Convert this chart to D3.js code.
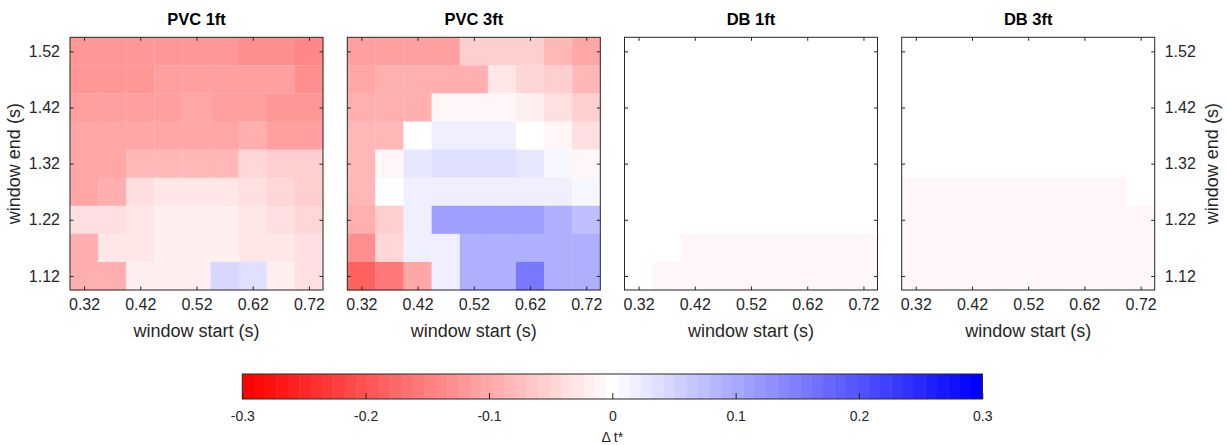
<!DOCTYPE html>
<html>
<head>
<meta charset="utf-8">
<script src="https://cdn.jsdelivr.net/npm/d3@7/dist/d3.min.js"></script>
<style>
  html, body { margin: 0; padding: 0; background: #fff; }
  svg { display: block; font-family: "Liberation Sans", Arial, Helvetica, sans-serif; }
</style>
</head>
<body>
<svg id="chart" width="1226" height="445"></svg>
<script>
// ---------- data ----------
const panelTitles = ["PVC 1ft", "PVC 3ft", "DB 1ft", "DB 3ft"];
const windowStart = [0.32, 0.37, 0.42, 0.47, 0.52, 0.57, 0.62, 0.67, 0.72];
const windowEnd = [1.52, 1.47, 1.42, 1.37, 1.32, 1.27, 1.22, 1.17, 1.12]; // rows, top to bottom
const xTicks = [0.32, 0.42, 0.52, 0.62, 0.72];
const yTicks = [1.12, 1.22, 1.32, 1.42, 1.52];
const cbTicks = [-0.3, -0.2, -0.1, 0, 0.1, 0.2, 0.3];
const cbTickLabels = ["-0.3", "-0.2", "-0.1", "0", "0.1", "0.2", "0.3"];
const cbLabel = "\u0394 t*";

const pvc1ft = [
  [-0.120, -0.120, -0.120, -0.120, -0.120, -0.120, -0.129, -0.129, -0.138],
  [-0.120, -0.120, -0.120, -0.108, -0.108, -0.108, -0.116, -0.116, -0.129],
  [-0.109, -0.109, -0.109, -0.109, -0.102, -0.108, -0.108, -0.119, -0.119],
  [-0.100, -0.100, -0.100, -0.100, -0.100, -0.100, -0.098, -0.112, -0.112],
  [-0.100, -0.100, -0.089, -0.089, -0.089, -0.089, -0.049, -0.060, -0.060],
  [-0.100, -0.090, -0.040, -0.029, -0.029, -0.029, -0.036, -0.046, -0.056],
  [-0.036, -0.036, -0.027, -0.019, -0.019, -0.019, -0.027, -0.033, -0.044],
  [-0.093, -0.029, -0.029, -0.019, -0.019, -0.019, -0.027, -0.025, -0.033],
  [-0.093, -0.093, -0.018, -0.018, -0.018,  0.049,  0.039, -0.021, -0.033]
];
const pvc3ft = [
  [-0.116, -0.108, -0.108, -0.108, -0.052, -0.052, -0.060, -0.080, -0.102],
  [-0.102, -0.093, -0.093, -0.093, -0.093, -0.029, -0.048, -0.060, -0.084],
  [-0.093, -0.093, -0.093, -0.012, -0.012, -0.012, -0.020, -0.040, -0.060],
  [-0.084, -0.084,  0.000,  0.020,  0.020,  0.020,  0.000, -0.014, -0.033],
  [-0.084, -0.012,  0.027,  0.038,  0.038,  0.038,  0.027,  0.012, -0.012],
  [-0.084,  0.000,  0.020,  0.020,  0.020,  0.020,  0.020,  0.020,  0.012],
  [-0.093, -0.060,  0.020,  0.112,  0.112,  0.112,  0.112,  0.093,  0.074],
  [-0.135, -0.048,  0.020,  0.020,  0.095,  0.095,  0.095,  0.095,  0.093],
  [-0.192, -0.159, -0.102,  0.020,  0.095,  0.095,  0.159,  0.095,  0.093]
];
const db1ft = [
  [0, 0, 0, 0, 0, 0, 0, 0, 0],
  [0, 0, 0, 0, 0, 0, 0, 0, 0],
  [0, 0, 0, 0, 0, 0, 0, 0, 0],
  [0, 0, 0, 0, 0, 0, 0, 0, 0],
  [0, 0, 0, 0, 0, 0, 0, 0, 0],
  [0, 0, 0, 0, 0, 0, 0, 0, 0],
  [0, 0, 0, 0, 0, 0, 0, 0, 0],
  [0, 0, -0.01, -0.01, -0.01, -0.01, -0.01, -0.01, -0.01],
  [0, -0.01, -0.01, -0.01, -0.01, -0.01, -0.01, -0.01, -0.01]
];
const db3ft = [
  [0, 0, 0, 0, 0, 0, 0, 0, 0],
  [0, 0, 0, 0, 0, 0, 0, 0, 0],
  [0, 0, 0, 0, 0, 0, 0, 0, 0],
  [0, 0, 0, 0, 0, 0, 0, 0, 0],
  [0, 0, 0, 0, 0, 0, 0, 0, 0],
  [-0.01, -0.01, -0.01, -0.01, -0.01, -0.01, -0.01, -0.01, 0],
  [-0.01, -0.01, -0.01, -0.01, -0.01, -0.01, -0.01, -0.01, -0.01],
  [-0.01, -0.01, -0.01, -0.01, -0.01, -0.01, -0.01, -0.01, -0.01],
  [-0.01, -0.01, -0.01, -0.01, -0.01, -0.01, -0.01, -0.01, -0.01]
];
const panelData = [pvc1ft, pvc3ft, db1ft, db3ft];

// ---------- layout ----------
const svg = d3.select("#chart");
const axisColor = "#262626";
const panelLefts = [70, 347.3, 624.5, 901.7];
const panelW = 253, panelTop = 37.3, panelH = 252.7;
const half = 0.025;
const nLevels = 65, vMax = 0.3;

const colorOf = v => {
  const step = 2 * vMax / (nLevels - 1);
  let q = Math.round((v + vMax) / step) * step - vMax;
  q = Math.max(-vMax, Math.min(vMax, q));
  const t = Math.abs(q) / vMax;
  const c = Math.round(255 * (1 - t));
  return q < 0 ? `rgb(255,${c},${c})` : `rgb(${c},${c},255)`;
};

const tickLen = 3.5;

panelData.forEach((data, pi) => {
  const left = panelLefts[pi];
  const x = d3.scaleLinear().domain([windowStart[0] - half, windowStart[windowStart.length - 1] + half]).range([left, left + panelW]);
  const y = d3.scaleLinear().domain([windowEnd[windowEnd.length - 1] - half, windowEnd[0] + half]).range([panelTop + panelH, panelTop]);
  const g = svg.append("g");

  const cells = [];
  data.forEach((row, ri) => row.forEach((v, ci) => cells.push({ xs: windowStart[ci], ye: windowEnd[ri], v })));
  g.selectAll("rect.cell").data(cells).enter().append("rect")
    .attr("class", "cell")
    .attr("x", d => x(d.xs - half))
    .attr("y", d => y(d.ye + half))
    .attr("width", d => x(d.xs + half) - x(d.xs - half) + 0.3)
    .attr("height", d => y(d.ye - half) - y(d.ye + half) + 0.3)
    .attr("fill", d => colorOf(d.v));

  // axes with inward ticks
  const bottom = d3.axisBottom(x).tickValues(xTicks).tickSize(-tickLen).tickPadding(9).tickFormat(d3.format(".2f"));
  const top = d3.axisTop(x).tickValues(xTicks).tickSize(-tickLen).tickFormat("");
  const leftAx = d3.axisLeft(y).tickValues(yTicks).tickSize(-tickLen).tickPadding(10).tickFormat(pi === 0 ? d3.format(".2f") : "");
  const rightAx = d3.axisRight(y).tickValues(yTicks).tickSize(-tickLen).tickPadding(10).tickFormat(pi === 3 ? d3.format(".2f") : "");

  const axes = [
    g.append("g").attr("transform", `translate(0,${panelTop + panelH})`).call(bottom),
    g.append("g").attr("transform", `translate(0,${panelTop})`).call(top),
    g.append("g").attr("transform", `translate(${left},0)`).call(leftAx),
    g.append("g").attr("transform", `translate(${left + panelW},0)`).call(rightAx)
  ];
  axes.forEach(a => {
    a.select(".domain").remove();
    a.selectAll("line").attr("stroke", axisColor).attr("stroke-width", 1);
    a.selectAll("text").attr("fill", axisColor).attr("font-size", 16).attr("font-family", "Liberation Sans, Arial, sans-serif");
  });

  g.append("rect")
    .attr("x", left).attr("y", panelTop).attr("width", panelW).attr("height", panelH)
    .attr("fill", "none").attr("stroke", axisColor).attr("stroke-width", 1);

  g.append("text")
    .attr("x", left + panelW / 2).attr("y", 25)
    .attr("text-anchor", "middle").attr("font-weight", "bold").attr("font-size", 16.5)
    .attr("fill", "#000").text(panelTitles[pi]);

  g.append("text")
    .attr("x", left + panelW / 2).attr("y", 337)
    .attr("text-anchor", "middle").attr("font-size", 18)
    .attr("fill", axisColor).text("window start (s)");

  if (pi === 0) {
    g.append("text")
      .attr("transform", `translate(20,${panelTop + panelH / 2}) rotate(-90)`)
      .attr("text-anchor", "middle").attr("font-size", 18)
      .attr("fill", axisColor).text("window end (s)");
  }
  if (pi === 3) {
    g.append("text")
      .attr("transform", `translate(1218,${panelTop + panelH / 2}) rotate(-90)`)
      .attr("text-anchor", "middle").attr("font-size", 18)
      .attr("fill", axisColor).text("window end (s)");
  }
});

// ---------- colorbar ----------
const cbX0 = 242.3, cbX1 = 982.3, cbY = 374, cbH = 25;
const cbScale = d3.scaleLinear().domain([-vMax, vMax]).range([cbX0, cbX1]);
const stripeW = (cbX1 - cbX0) / nLevels;
const levels = d3.range(nLevels).map(i => -vMax + i * (2 * vMax / (nLevels - 1)));
const cb = svg.append("g");
cb.selectAll("rect.stripe").data(levels).enter().append("rect")
  .attr("class", "stripe")
  .attr("x", (d, i) => cbX0 + i * stripeW)
  .attr("y", cbY).attr("width", stripeW + 0.4).attr("height", cbH)
  .attr("fill", d => colorOf(d));
const cbAxis = d3.axisBottom(cbScale).tickValues(cbTicks).tickSize(-6).tickPadding(12)
  .tickFormat((d, i) => cbTickLabels[i]);
const cbA = cb.append("g").attr("transform", `translate(0,${cbY + cbH})`).call(cbAxis);
cbA.select(".domain").remove();
cbA.selectAll("line").attr("stroke", axisColor);
cbA.selectAll("text").attr("fill", axisColor).attr("font-size", 14).attr("font-family", "Liberation Sans, Arial, sans-serif");
cb.append("rect").attr("x", cbX0).attr("y", cbY).attr("width", cbX1 - cbX0).attr("height", cbH)
  .attr("fill", "none").attr("stroke", axisColor).attr("stroke-width", 1);
cb.append("text").attr("x", cbScale(0)).attr("y", 442).attr("text-anchor", "middle")
  .attr("font-size", 14).attr("fill", axisColor).text(cbLabel);
</script>
</body>
</html>
